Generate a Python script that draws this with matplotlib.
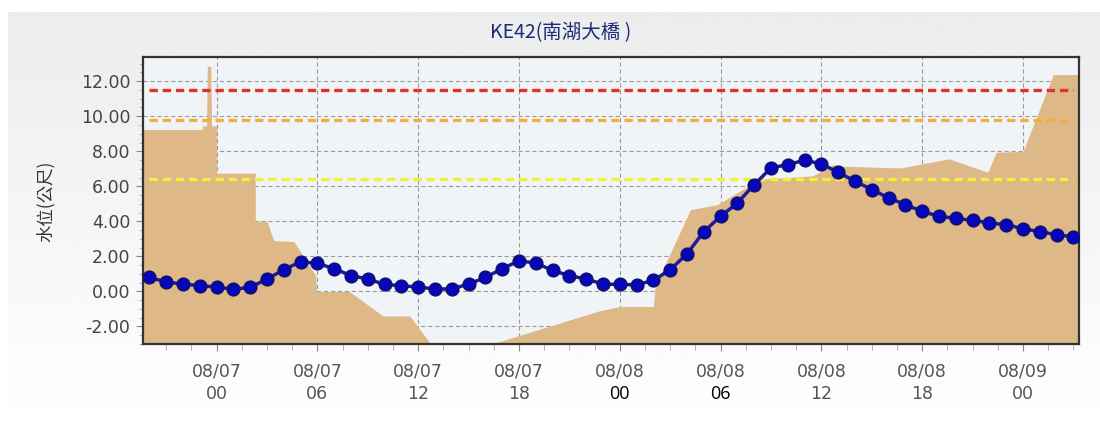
import numpy as np
import pandas as pd
import matplotlib
matplotlib.use("Agg")
import matplotlib.pyplot as plt
import matplotlib.dates as mdates
from matplotlib.ticker import MultipleLocator, FormatStrFormatter

# 水位 (hourly, 08/06 20:00 - 08/09 03:00)
start = "2019-08-06 20:00"
level = [0.80, 0.54, 0.42, 0.33, 0.25, 0.13, 0.23, 0.71, 1.24, 1.70,
         1.60, 1.30, 0.90, 0.71, 0.40, 0.33, 0.25, 0.14, 0.14, 0.42,
         0.80, 1.30, 1.75, 1.62, 1.20, 0.90, 0.71, 0.42, 0.40, 0.38,
         0.63, 1.24, 2.15, 3.41, 4.29, 5.05, 6.10, 7.05, 7.24, 7.49,
         7.28, 6.80, 6.29, 5.81, 5.34, 4.95, 4.57, 4.29, 4.17, 4.06,
         3.91, 3.81, 3.58, 3.41, 3.24, 3.11]

# background area series: (hours from 08/07 00, value)
area_hours = [-4.4, -0.85, -0.85, -0.6, -0.55, -0.35, -0.3, 0.0, 0.0, 2.3,
              2.3, 3.0, 3.4, 4.6, 5.9, 5.95, 7.9, 9.9, 11.5, 12.9,
              15.7, 22.8, 24.0, 26.0, 26.1, 28.2, 29.8, 32.3, 35.5, 36.7,
              37.1, 40.7, 43.6, 45.9, 46.4, 48.0, 49.8, 51.4]
area_vals = [9.24, 9.24, 9.45, 9.45, 12.85, 12.85, 9.45, 9.45, 6.75, 6.75,
             4.0, 4.0, 2.9, 2.85, 0.9, 0.0, 0.0, -1.4, -1.4, -3.2,
             -3.2, -1.1, -0.86, -0.86, 0.3, 4.67, 4.95, 6.4, 6.6, 7.24,
             7.15, 7.05, 7.57, 6.8, 7.94, 8.0, 12.38, 12.38]

# 警戒水位
warn_red = 11.5
warn_orange = 9.8
warn_yellow = 6.4

yticks = [-2, 0, 2, 4, 6, 8, 10, 12]

times = pd.date_range(start, periods=len(level), freq="h")
day0 = pd.Timestamp("2019-08-07 00:00")
area_times = [day0 + pd.Timedelta(hours=h) for h in area_hours]

cjk = ["Noto Sans CJK TC", "DejaVu Sans"]
plt.rcParams["lines.scale_dashes"] = False

fig = plt.figure(figsize=(11, 4.32), dpi=100)
fig.patch.set_facecolor("white")

# 背景のグラデーション
bg = fig.add_axes([0.007, 0.0, 0.993, 0.972], zorder=-5)
grad = np.linspace(0.925, 1.0, 256).reshape(-1, 1)
bg.imshow(grad, aspect="auto", cmap="gray", vmin=0, vmax=1, extent=[0, 1, 0, 1], origin="upper")
bg.set_axis_off()

ax = fig.add_axes([0.1297, 0.2037, 0.8515, 0.6651])
ax.set_facecolor("#f1f4f7")

ax.fill_between(area_times, area_vals, -4, color="#deb887", lw=0, zorder=2)

lw_w = 2.4
ax.plot([times[0], times[-1]], [warn_red] * 2, color="#e03030", lw=lw_w, dashes=(6, 3.5), zorder=3)
ax.plot([times[0], times[-1]], [warn_orange] * 2, color="#f0b040", lw=lw_w, dashes=(6, 3.5), zorder=3)
ax.plot([times[0], times[-1]], [warn_yellow] * 2, color="#f2f03a", lw=lw_w, dashes=(6, 3.5), zorder=3)

ax.plot(times, level, color="#1c1c9a", lw=2.5, marker="o", ms=9,
        mfc="#0606bc", mec="#10106e", mew=1.2, zorder=4)

ax.set_ylim(-3.0, 13.4)
ax.set_xlim(day0 + pd.Timedelta(hours=-4.4), day0 + pd.Timedelta(hours=51.35))

ax.set_yticks(yticks)
ax.yaxis.set_major_formatter(FormatStrFormatter("%.2f"))
ax.yaxis.set_minor_locator(MultipleLocator(0.5))
ax.xaxis.set_major_locator(MultipleLocator(0.25))
ax.xaxis.set_minor_locator(MultipleLocator(0.0625))
ax.tick_params(axis="y", which="major", length=5, color="#888", labelsize=12.5, labelcolor="#444", pad=4)
ax.tick_params(axis="y", which="minor", length=3, color="#aaa")
ax.tick_params(axis="x", which="major", length=5, color="#888", labelbottom=False)
ax.tick_params(axis="x", which="minor", length=4, color="#aaa")

ax.grid(True, which="major", color="#999999", ls=(0, (3, 2)), lw=0.8, zorder=1)
ax.set_axisbelow(True)
for sp in ax.spines.values():
    sp.set_color("#333333")
    sp.set_linewidth(1.6)

# x軸ラベル (2行)
lo, hi = ax.get_xlim()
xtr = ax.get_xaxis_transform()
for tick in ax.xaxis.get_major_locator().tick_values(lo, hi):
    if tick < lo or tick > hi:
        continue
    d = mdates.num2date(tick)
    ax.text(tick, -0.095, d.strftime("%m/%d"), transform=xtr, ha="center", va="center",
            fontsize=12.5, color="#555555")
    hh = d.strftime("%H")
    if d.day == 8 and d.hour in (0, 6):
        ax.text(tick, -0.175, hh, transform=xtr, ha="center", va="center",
                fontsize=13, color="black", family="Open Sans")
    else:
        ax.text(tick, -0.175, hh, transform=xtr, ha="center", va="center",
                fontsize=12.5, color="#555555")

fig.text(0.51, 0.924, "KE42(南湖大橋 )", ha="center", va="center", fontsize=14,
         color="#1f2a78", family=cjk)
fig.text(0.041, 0.535, "水位(公尺)", ha="center", va="center", rotation=90,
         fontsize=12.5, color="#333333", family=cjk)

fig.savefig("out.png", dpi=100)
